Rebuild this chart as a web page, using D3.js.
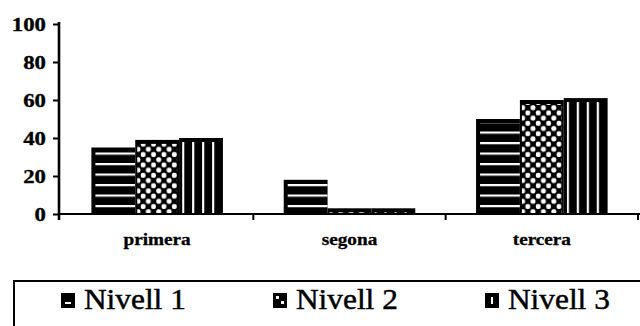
<!DOCTYPE html>
<html>
<head>
<meta charset="utf-8">
<script src="https://cdn.jsdelivr.net/npm/d3@7"></script>
<style>
  html, body { margin: 0; padding: 0; background: #fff; }
  svg { display: block; }
  svg text { font-family: "Liberation Serif", "Times New Roman", Times, serif; }
</style>
</head>
<body>
<script>
// Percentatge per curs i nivell
const categories = ["primera", "segona", "tercera"];
const seriesNames = ["Nivell 1", "Nivell 2", "Nivell 3"];
const nivell1 = [35, 18, 50];
const nivell2 = [39, 3, 60];
const nivell3 = [40, 3, 61];
const yTicks = [0, 20, 40, 60, 80, 100];

const seriesValues = [nivell1, nivell2, nivell3];
const patternIds = ["hstripe", "checker", "vstripe"];

const W = 640, H = 326;
const svg = d3.select("body").append("svg").attr("width", W).attr("height", H);

// Hatch fills: white marks over a black bar
const defs = svg.append("defs");
const ph = defs.append("pattern").attr("id", "hstripe")
  .attr("patternUnits", "userSpaceOnUse")
  .attr("x", 0).attr("y", 205).attr("width", 10).attr("height", 10.5);
ph.append("rect").attr("x", 0).attr("y", 0).attr("width", 10).attr("height", 2.2).attr("fill", "#fff");

const pc = defs.append("pattern").attr("id", "checker")
  .attr("patternUnits", "userSpaceOnUse")
  .attr("x", 0).attr("y", 1).attr("width", 10.4).attr("height", 10.4);
pc.append("rect").attr("x", 0.3).attr("y", 0.3).attr("width", 4.8).attr("height", 4.8).attr("rx", 1.8).attr("fill", "#fff");
pc.append("rect").attr("x", 5.5).attr("y", 5.5).attr("width", 4.8).attr("height", 4.8).attr("rx", 1.8).attr("fill", "#fff");

const pv = defs.append("pattern").attr("id", "vstripe")
  .attr("patternUnits", "userSpaceOnUse")
  .attr("x", 3).attr("y", 0).attr("width", 10).attr("height", 10);
pv.append("rect").attr("x", 0).attr("y", 0).attr("width", 2.2).attr("height", 10).attr("fill", "#fff");

// Scales
const x0 = d3.scaleBand().domain(categories).range([61, 638]).padding(0);
const bw = x0.bandwidth();
const x1 = d3.scaleBand().domain(seriesNames).range([bw * 0.158, bw * 0.842]).padding(0);
const y = d3.scaleLinear().domain([0, 100]).range([214, 24]);

// Inner inset of the hatch area for each series: [left, top, right]
const insets = [[4, 4, 0], [2, 4, 2], [3, 4, 5]];

const groups = svg.append("g").selectAll("g.cat")
  .data(categories).join("g")
  .attr("class", "cat")
  .attr("transform", d => `translate(${x0(d)},0)`);

groups.each(function(cat, ci) {
  const g = d3.select(this);
  seriesNames.forEach((s, si) => {
    const v = seriesValues[si][ci];
    const bx = x1(s), top = y(v), h = y(0) - y(v), w = x1.bandwidth();
    const bar = g.append("g").attr("transform", `translate(${bx},0)`);
    bar.append("rect").attr("x", 0).attr("y", top).attr("width", w).attr("height", h).attr("fill", "#000");
    const [il, it, ir] = insets[si];
    const ih = Math.max(0, h - it);
    bar.append("rect").attr("x", il).attr("y", top + it)
      .attr("width", w - il - ir).attr("height", ih)
      .attr("fill", `url(#${patternIds[si]})`);
  });
});

// Stretched serif text helper
function label(parent, txt, x, yy, size, weight, anchor, sx, thick) {
  return parent.append("text")
    .attr("transform", `translate(${x},${yy}) scale(${sx},1)`)
    .attr("text-anchor", anchor)
    .attr("font-size", size)
    .attr("font-weight", weight)
    .attr("fill", "#000")
    .attr("stroke", "#000")
    .attr("stroke-width", thick)
    .text(txt);
}

// Y axis
const yAxis = svg.append("g").attr("transform", "translate(59,0)")
  .call(d3.axisLeft(y).tickValues(yTicks).tickSize(6).tickFormat(""));
yAxis.select(".domain").remove();
yAxis.selectAll(".tick line").attr("stroke", "#000").attr("stroke-width", 2);
svg.append("line").attr("x1", 59).attr("x2", 59).attr("y1", 22).attr("y2", 220)
  .attr("stroke", "#000").attr("stroke-width", 2.6);
yTicks.forEach(t => label(svg, String(t), 46, y(t) + 6.5, 19, "bold", "end", 1.2, 0.35));

// X axis: ticks on the category boundaries
const boundaries = categories.map(c => x0(c) + bw);
svg.append("g").attr("transform", "translate(0,214)")
  .selectAll("line").data(boundaries).join("line")
  .attr("x1", d => d).attr("x2", d => d).attr("y1", 0).attr("y2", 6)
  .attr("stroke", "#000").attr("stroke-width", 2);
svg.append("line").attr("x1", 58).attr("x2", 640).attr("y1", 214).attr("y2", 214)
  .attr("stroke", "#000").attr("stroke-width", 2.2);
categories.forEach(c => label(svg, c, x0(c) + bw / 2, 245, 16, "bold", "middle", 1.2, 0.3));

// Legend
const lg = svg.append("g");
lg.append("path").attr("d", "M14,326 L14,281 L640,281")
  .attr("fill", "none").attr("stroke", "#000").attr("stroke-width", 2);
const legendX = [61, 273, 485];
const iconMarks = [
  [[4, 9, 6, 2]],
  [[3, 3, 3, 3], [8, 8, 3, 3]],
  [[6, 4, 2, 7]]
];
seriesNames.forEach((s, i) => {
  const gx = legendX[i];
  lg.append("rect").attr("x", gx).attr("y", 293).attr("width", 14).attr("height", 15).attr("fill", "#000");
  iconMarks[i].forEach(m => lg.append("rect").attr("x", gx + m[0]).attr("y", 293 + m[1])
    .attr("width", m[2]).attr("height", m[3]).attr("fill", "#fff"));
  label(lg, s, gx + 23, 309, 28.5, "normal", "start", 1.1, 0.45);
});
</script>
</body>
</html>
